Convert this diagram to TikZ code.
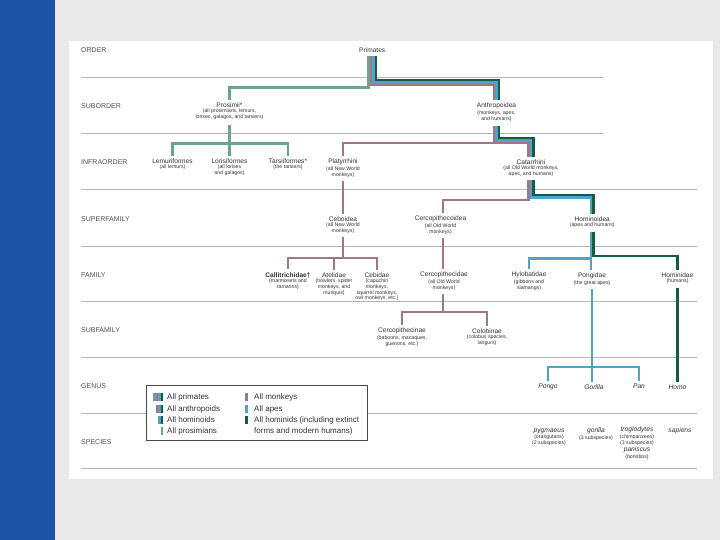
\documentclass[tikz,border=0pt]{standalone}
\usepackage{fontspec}
\setmainfont{Liberation Sans}
\usetikzlibrary{calc}
\definecolor{cPro}{HTML}{6AA590}
\definecolor{cMon}{HTML}{A5738A}
\definecolor{cApe}{HTML}{4FA3C7}
\definecolor{cHom}{HTML}{165C43}
\definecolor{cBlue}{HTML}{1B55A3}
\definecolor{cBg}{HTML}{E9E9E9}
\definecolor{cSep}{HTML}{B4B4B4}
\definecolor{cTxt}{HTML}{333333}
\begin{document}
\begin{tikzpicture}[x=1pt,y=-1pt,
 rowlab/.style={anchor=west,font=\fontsize{7}{8}\selectfont,text=cTxt!85,inner sep=0},
 tname/.style={font=\fontsize{6.6}{7.2}\selectfont,text=cTxt,inner sep=0.7pt},
 tdesc/.style={font=\fontsize{5.2}{5.7}\selectfont,text=cTxt,align=center,inner sep=0.5pt,anchor=north},
 gname/.style={font=\fontsize{6.7}{7.2}\selectfont\itshape,text=cTxt,inner sep=0.7pt},
 seprule/.style={draw=cSep,line width=0.8pt},
 stripe/.style={line width=2.7pt},
 prs/.style={stripe,draw=cPro}, mon/.style={stripe,draw=cMon},
 ape/.style={stripe,draw=cApe}, hmd/.style={stripe,draw=cHom},
 legtxt/.style={anchor=west,font=\fontsize{8}{9}\selectfont,text=cTxt,inner sep=0},
]
% background
\fill[cBg] (0,0) rectangle (720,540);
\useasboundingbox (0,0) rectangle (720,540);
\fill[cBlue] (0,0) rectangle (54.5,540);
\fill[white] (69,41) rectangle (713,479);
% separators
\foreach \yy in {77,133} \draw[seprule] (81,\yy) -- (603,\yy);
\foreach \yy in {189,246,301,357,413,468} \draw[seprule] (81,\yy) -- (697,\yy);
% row labels
\node[rowlab] (r1) at (81,50) {ORDER};
\node[rowlab] (r2) at (81,106) {SUBORDER};
\node[rowlab] (r3) at (81,162) {INFRAORDER};
\node[rowlab] (r4) at (81,219) {SUPERFAMILY};
\node[rowlab] (r5) at (81,275) {FAMILY};
\node[rowlab] (r6) at (81,330) {SUBFAMILY};
\node[rowlab] (r7) at (81,386) {GENUS};
\node[rowlab] (r8) at (81,442) {SPECIES};
% taxa
\node[tname] (primates) at (372.25,50) {Primates};
\node[tname] (prosimii) at (229.5,105) {Prosimii*};
\node[tdesc] (prosimii-d) at (prosimii.south) {(all prosimians, lemurs,\\lorises, galagos, and tarsiers)};
\node[tname] (anthro) at (496.5,106) {Anthropoidea};
\node[tdesc] (anthro-d) at (anthro.south) {(monkeys, apes,\\and humans)};
\node[tname] (lemur) at (172.5,161) {Lemuriformes};
\node[tdesc] (lemur-d) at (lemur.south) {(all lemurs)};
\node[tname] (loris) at (229.5,161) {Lorisiformes};
\node[tdesc] (loris-d) at (loris.south) {(all lorises\\and galagos)};
\node[tname] (tarsi) at (288,161) {Tarsiiformes*};
\node[tdesc] (tarsi-d) at (tarsi.south) {(the tarsiers)};
\node[tname] (platy) at (343,162) {Platyrrhini};
\node[tdesc] (platy-d) at (platy.south) {(all New World\\monkeys)};
\node[tname] (catar) at (531,162) {Catarrhini};
\node[tdesc] (catar-d) at (catar.south) {(all Old World monkeys,\\apes, and humans)};
\node[tname] (ceboid) at (343,219) {Ceboidea};
\node[tdesc] (ceboid-d) at (ceboid.south) {(all New World\\monkeys)};
\node[tname] (cercoid) at (440.5,219) {Cercopithecoidea};
\node[tdesc] (cercoid-d) at (cercoid.south) {(all Old World\\monkeys)};
\node[tname] (hominoid) at (592.25,219) {Hominoidea};
\node[tdesc] (hominoid-d) at (hominoid.south) {(apes and humans)};
\node[tname,font=\fontsize{6.6}{7.2}\selectfont\bfseries] (callit) at (288,275) {Callitrichidae†};
\node[tdesc] (callit-d) at (callit.south) {(marmosets and\\tamarins)};
\node[tname] (ateli) at (334,275) {Atelidae};
\node[tdesc] (ateli-d) at (ateli.south) {(howlers, spider\\monkeys, and\\muriquis)};
\node[tname] (cebid) at (377,275) {Cebidae};
\node[tdesc] (cebid-d) at (cebid.south) {(capuchin\\monkeys,\\squirrel monkeys,\\owl monkeys, etc.)};
\node[tname] (cercid) at (444,275) {Cercopithecidae};
\node[tdesc] (cercid-d) at (cercid.south) {(all Old World\\monkeys)};
\node[tname] (hylo) at (529,275) {Hylobatidae};
\node[tdesc] (hylo-d) at (hylo.south) {(gibbons and\\siamangs)};
\node[tname] (pongid) at (592,276) {Pongidae};
\node[tdesc] (pongid-d) at (pongid.south) {(the great apes)};
\node[tname] (hominid) at (677.5,275) {Hominidae};
\node[tdesc] (hominid-d) at (hominid.south) {(humans)};
\node[tname] (cercinae) at (402,331) {Cercopithecinae};
\node[tdesc] (cercinae-d) at (cercinae.south) {(baboons, macaques,\\guenons, etc.)};
\node[tname] (colob) at (487,331) {Colobinae};
\node[tdesc] (colob-d) at (colob.south) {(colobus species,\\langurs)};
% genera
\node[gname] (pongo) at (548,387) {Pongo};
\node[gname] (gorillag) at (594,387) {Gorilla};
\node[gname] (pan) at (639,386) {Pan};
\node[gname] (homo) at (677.5,387) {Homo};
% species
\node[gname] (pygm) at (549,431) {pygmaeus};
\node[tdesc] (pygm-d) at (pygm.south) {(orangutans)\\(2 subspecies)};
\node[gname] (gor) at (596,431) {gorilla};
\node[tdesc] (gor-d) at (gor.south) {(3 subspecies)};
\node[gname] (trog) at (637,430) {troglodytes};
\node[tdesc] (trog-d) at (trog.south) {(chimpanzees)\\(3 subspecies)};
\node[gname] (panis) at (637,450) {paniscus};
\node[tdesc] (panis-d) at (panis.south) {(bonobos)};
\node[gname] (sap) at (680,431) {sapiens};
% ---- tree stripes ----
% primates -> prosimii / anthropoidea
\draw[prs] ([xshift=-3.75pt,yshift=-3pt]primates.south) |- (300,87.5) -| ([yshift=2pt]prosimii.north);
\draw[mon] ([xshift=-1.25pt,yshift=-3pt]primates.south) |- (450,85) -| ([xshift=-2.5pt,yshift=2pt]anthro.north);
\draw[ape] ([xshift=1.25pt,yshift=-3pt]primates.south) |- (450,82.5) -| ([yshift=2pt]anthro.north);
\draw[hmd] ([xshift=3.75pt,yshift=-3pt]primates.south) |- (450,80) -| ([xshift=2.5pt,yshift=2pt]anthro.north);
% prosimii -> infraorders
\draw[prs] ([yshift=-5pt]prosimii-d.south) |- (200,143.5) -| ([yshift=2pt]lemur.north);
\draw[prs] ([yshift=-5pt]prosimii-d.south) |- (260,143.5) -| ([yshift=2pt]tarsi.north);
\draw[prs] ([yshift=-5pt]prosimii-d.south) -- ([yshift=2pt]loris.north);
% anthropoidea -> platyrrhini / catarrhini
\draw[mon] ([xshift=-2.5pt,yshift=-4pt]anthro-d.south) |- (420,143) -| ([yshift=2pt]platy.north);
\draw[mon] ([xshift=-2.5pt,yshift=-4pt]anthro-d.south) |- (510,143) -| ([xshift=-2.5pt,yshift=2pt]catar.north);
\draw[ape] ([yshift=-4pt]anthro-d.south) |- (510,140.5) -| ([yshift=2pt]catar.north);
\draw[hmd] ([xshift=2.5pt,yshift=-4pt]anthro-d.south) |- (510,138) -| ([xshift=2.5pt,yshift=2pt]catar.north);
% platyrrhini -> ceboidea
\draw[mon] ([yshift=-3pt]platy-d.south) -- ([yshift=2pt]ceboid.north);
% catarrhini -> cercopithecoidea / hominoidea
\draw[mon] ([xshift=-2.5pt,yshift=-3pt]catar-d.south) |- (480,200) -| ([xshift=2.5pt,yshift=2pt]cercoid.north);
\draw[ape] ([yshift=-3pt]catar-d.south) |- (560,197.5) -| ([xshift=-1.25pt,yshift=2pt]hominoid.north);
\draw[hmd] ([xshift=2.5pt,yshift=-3pt]catar-d.south) |- (560,195) -| ([xshift=1.25pt,yshift=2pt]hominoid.north);
% ceboidea -> families
\coordinate (cebj) at (343,258);
\draw[mon] ([yshift=-3pt]ceboid-d.south) |- (310,258) -| ([yshift=2pt]callit.north);
\draw[mon] ([yshift=-3pt]ceboid-d.south) |- (360,258) -| ([yshift=2pt]cebid.north);
\draw[mon] (cebj -| ateli.north) -- ([yshift=2pt]ateli.north);
% cercopithecoidea -> cercopithecidae
\draw[mon] ([xshift=2.5pt,yshift=-3pt]cercoid-d.south) -- ([xshift=-1pt,yshift=2pt]cercid.north);
% hominoidea -> families
\draw[ape] ([xshift=-1.25pt,yshift=-3pt]hominoid-d.south) |- (560,258.5) -| ([yshift=2pt]hylo.north);
\draw[ape] ([xshift=-1.25pt,yshift=-3pt]hominoid-d.south) -- ([xshift=-1pt,yshift=2pt]pongid.north);
\draw[hmd] ([xshift=1.25pt,yshift=-3pt]hominoid-d.south) |- (640,256) -| ([yshift=2pt]hominid.north);
% cercopithecidae -> subfamilies
\draw[mon] ([xshift=-1pt,yshift=-3pt]cercid-d.south) |- (420,312) -| ([yshift=2pt]cercinae.north);
\draw[mon] ([xshift=-1pt,yshift=-3pt]cercid-d.south) |- (470,312) -| ([yshift=2pt]colob.north);
% pongidae -> genera
\coordinate (gtop) at (pongid-d.south |- gorillag.north);
\draw[ape] ([yshift=-3pt]pongid-d.south) |- (570,367) -| ([yshift=2pt]pongo.north);
\draw[ape] ([yshift=-3pt]pongid-d.south) |- (620,367) -| ([yshift=2pt]pan.north);
\draw[ape] ([yshift=-3pt]pongid-d.south) -- ([yshift=2pt]gtop);
% hominidae -> homo
\draw[hmd] ([yshift=-3pt]hominid-d.south) -- ([yshift=2pt]homo.north);
% ---- legend ----
\node[draw=cTxt!90,fill=white,line width=0.6pt,anchor=north west,minimum width=221pt,minimum height=55pt,inner sep=0] (legend) at (146,385) {};
% swatches left
\fill[cPro] (153,393) rectangle (155.5,401);
\fill[cMon] (155.5,393) rectangle (158,401);
\fill[cApe] (158,393) rectangle (160.5,401);
\fill[cHom] (160.5,393) rectangle (163,401);
\fill[cMon] (155.5,405) rectangle (158,413);
\fill[cApe] (158,405) rectangle (160.5,413);
\fill[cHom] (160.5,405) rectangle (163,413);
\fill[cApe] (158,416) rectangle (160.5,424);
\fill[cHom] (160.5,416) rectangle (163,424);
\fill[cPro] (160.5,427) rectangle (163,435);
\node[legtxt] (l1) at (167,397) {All primates};
\node[legtxt] (l2) at (167,409) {All anthropoids};
\node[legtxt] (l3) at (167,420) {All hominoids};
\node[legtxt] (l4) at (167,431) {All prosimians};
% swatches right
\fill[cMon] (245,393) rectangle (248,401);
\fill[cApe] (245,405) rectangle (248,413);
\fill[cHom] (245,416) rectangle (248,424);
\node[legtxt] (l5) at (254,397) {All monkeys};
\node[legtxt] (l6) at (254,409) {All apes};
\node[legtxt] (l7) at (254,420) {All hominids (including extinct};
\node[legtxt] (l8) at (254,431) {forms and modern humans)};
\end{tikzpicture}
\end{document}
